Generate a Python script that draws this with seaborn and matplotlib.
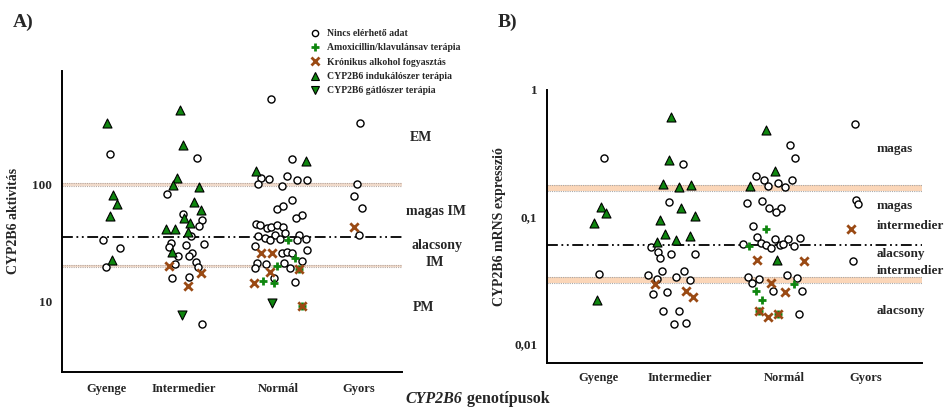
import numpy as np
import pandas as pd
import seaborn as sns
import matplotlib
matplotlib.use("Agg")
import matplotlib.pyplot as plt
from matplotlib.lines import Line2D
from matplotlib.ticker import LogLocator, FixedLocator, FixedFormatter, NullFormatter

# ---------------- data ----------------
categories = ["Gyenge", "Intermedier", "Normál", "Gyors"]
type_names = {
    "n": "Nincs elérhető adat",
    "a": "Amoxicillin/klavulánsav terápia",
    "k": "Krónikus alkohol fogyasztás",
    "i": "CYP2B6 indukálószer terápia",
    "g": "CYP2B6 gátlószer terápia",
}

# Panel A: CYP2B6 activity
A_gyenge_val = [330, 180, 80.5, 68, 53.5, 33.7, 28.8, 22.4, 19.5]
A_gyenge_off = [0, 3, 6, 10, 3, -4, 13, 5, -1]
A_gyenge_typ = "iniiinnin"

A_inter_val = [429, 215, 167, 114, 99, 94, 82, 70, 60, 56, 51.2, 50, 46.7, 44, 41.3, 41.3, 39, 36.2,
               31.7, 31, 30.3, 29.1, 26.4, 24.6, 25.7, 24.2, 21.7, 21, 20.2, 19.8, 17.5, 15.9, 16.2,
               13.6, 7.7, 6.4]
A_inter_off = [-4, -1, 13, -7, -11, 15, -17, 10, 17, -1, 0, 18, 6, 15, -18, -9, 4, 7, -13, 20, 2, -15,
               -12, -6, 8, 5, 12, -9, -15, 14, 17, -12, 5, 4, -2, 18]
A_inter_typ = "iiniiinii" "nininiii" "nnnnn" "i" "nnnnn" "knknnkgn"

A_norm_val = [529, 163, 157, 129, 114, 110, 100, 117, 96, 108, 108, 74, 61.5, 65, 55, 51.5, 46, 44.6,
              42.4, 43, 45, 43, 38.3, 36.6, 35.9, 34.8, 33.2, 34.3, 37.1, 33.7, 34.3, 33.2, 29.5, 25.7,
              26, 26, 26.4, 26, 27.7, 23.3, 22, 21.3, 20.7, 21.1, 19.9, 19.4, 19.1, 18.8, 18.8, 17.7,
              15.7, 14.4, 14.9, 14.3, 14.7, 9.7, 9.1, 9.1]
A_norm_off = [-8, 13, 27, -23, -18, -10, -21, 8, 3, 18, 28, 13, -2, 4, 23, 17, -23, -19, -12, -8, -2, 4,
              6, -4, -21, -14, -9, 1, 20, 18, 27, 9, -24, -18, -7, 3, 8, 13, 28, 16, 23, -22, -13, 5,
              -2, -24, 11, 20, 20, -9, -5, -25, -16, -5, 16, -7, 23, 23]
A_norm_typ = ("nnii" "nnnnnnnnnn" "nnnnnnnnnn" "nnnnnnn" "ankk" "nnnn" "a" "nnnn" "a" "nn"
              "ak" "kn" "kaan" "gak")

A_gyors_val = [334, 101, 79, 63, 43, 36.6]
A_gyors_off = [2, -1, -4, 4, -4, 1]
A_gyors_typ = "nnnnkn"

A_limits = [100, 20]          # EM / IM / PM limits
A_cut = 35.7                  # high / low IM cut
A_labels = ["EM", "magas IM", "alacsony", "IM", "PM"]
A_label_y = [250, 58, 30, 21.4, 8.9]

# Panel B: CYP2B6 mRNA expression
B_gyenge_val = [0.29, 0.119, 0.108, 0.0897, 0.0357, 0.0221]
B_gyenge_off = [6, 3, 8, -4, 1, -1]
B_gyenge_typ = "niiini"

B_inter_val = [0.61, 0.279, 0.262, 0.182, 0.18, 0.171, 0.13, 0.118, 0.101, 0.094, 0.073, 0.0705,
               0.066, 0.064, 0.058, 0.0529, 0.051, 0.051, 0.0477, 0.0375, 0.0375, 0.0348, 0.0339,
               0.0325, 0.0321, 0.0294, 0.0248, 0.0256, 0.0262, 0.0232, 0.0182, 0.0183, 0.0142, 0.0146]
B_inter_off = [-9, -11, 3, -17, 11, -1, -11, 1, 15, -20, -15, 10, -4, -23, -29, -22, -9, 15, -20, -18,
               4, -32, -4, -23, 10, -25, -27, -13, 6, 13, -17, -1, -6, 6]
B_inter_typ = "iiniiin" "iiiiiii" "nnnnnnnnnnn" "k" "nn" "kk" "nnnn"

B_norm_val = [0.483, 0.368, 0.292, 0.21, 0.23, 0.195, 0.195, 0.184, 0.176, 0.174, 0.172, 0.128, 0.133,
              0.118, 0.118, 0.109, 0.085, 0.08, 0.0697, 0.067, 0.0666, 0.068, 0.0617, 0.0627, 0.0606,
              0.0606, 0.0613, 0.0594, 0.0568, 0.0585, 0.0458, 0.0455, 0.0451, 0.0348, 0.0335, 0.0322,
              0.0332, 0.0299, 0.0301, 0.0294, 0.0263, 0.0263, 0.0254, 0.0261, 0.022, 0.0183, 0.0183,
              0.0162, 0.0171, 0.0171, 0.0171]
B_norm_off = [-18, 6, 11, -28, -9, -20, 8, -6, -34, -16, 1, -37, -22, -15, -3, -8, -31, -18, -27, -9,
              4, 16, -41, -23, -18, -4, -1, 10, -13, -35, -27, -7, 20, 3, -36, -25, 13, -32, -13, 10,
              -28, -11, 1, 18, -22, -25, -25, -16, -6, -6, 15]
B_norm_typ = "innninnni" "nnnnnnnn" "a" "nnnnnnnnnnn" "akik" "nnnnn" "kaanknaakkakn"

B_gyors_val = [0.542, 0.137, 0.126, 0.08, 0.0452]
B_gyors_off = [-11, -10, -8, -15, -13]
B_gyors_typ = "nnnkn"

B_bands = [(0.16, 0.18), (0.0299, 0.0334)]
B_cut = 0.06
B_labels = ["magas", "magas", "intermedier", "alacsony", "intermedier", "alacsony"]
B_label_y = [0.342, 0.122, 0.0846, 0.0508, 0.0372, 0.018]


def make_frame(vals, offs, typs):
    rows = []
    for cat, v, o, t in zip(categories, vals, offs, typs):
        for vv, oo, tt in zip(v, o, list(t)):
            rows.append({"cat": cat, "value": vv, "off": oo, "type": tt})
    return pd.DataFrame(rows)


dfA = make_frame([A_gyenge_val, A_inter_val, A_norm_val, A_gyors_val],
                 [A_gyenge_off, A_inter_off, A_norm_off, A_gyors_off],
                 [A_gyenge_typ, A_inter_typ, A_norm_typ, A_gyors_typ])
dfB = make_frame([B_gyenge_val, B_inter_val, B_norm_val, B_gyors_val],
                 [B_gyenge_off, B_inter_off, B_norm_off, B_gyors_off],
                 [B_gyenge_typ, B_inter_typ, B_norm_typ, B_gyors_typ])

# ---------------- style ----------------
sns.set_style("white")
plt.rcParams["font.family"] = ["Liberation Serif", "DejaVu Serif"]
plt.rcParams["font.weight"] = "bold"

GREEN = "#0f860f"
BROWN = "#9a4a14"
styles = {
    "n": dict(marker="o", s=26, facecolor="white", edgecolor="black", linewidth=1.0),
    "i": dict(marker="^", s=42, facecolor=GREEN, edgecolor="black", linewidth=0.8),
    "g": dict(marker="v", s=42, facecolor=GREEN, edgecolor="black", linewidth=0.8),
    "a": dict(marker="+", s=36, color=GREEN, linewidth=2.0),
    "k": dict(marker="x", s=36, color=BROWN, linewidth=2.0),
}

W, H = 950, 408
fig = plt.figure(figsize=(9.5, 4.08), dpi=100)

# layout in pixels
axA = fig.add_axes([62 / W, 1 - 372 / H, (402 - 62) / W, (372 - 70.7) / H])
axB = fig.add_axes([547 / W, 1 - 362.7 / H, (922 - 547) / W, (362.7 - 90) / H])
posA = {"Gyenge": 106.7, "Intermedier": 184, "Normál": 278.7, "Gyors": 358.3}
posB = {"Gyenge": 598.3, "Intermedier": 680, "Normál": 784.3, "Gyors": 866}


def draw_points(ax, df, pos):
    df = df.copy()
    df["x"] = df["cat"].map(pos) + df["off"]
    for t in ["n", "i", "g", "a", "k"]:
        sub = df[df["type"] == t]
        if len(sub):
            sns.scatterplot(data=sub, x="x", y="value", ax=ax, legend=False, zorder=5, **styles[t])


def style_axis(ax, pos, xlim, pad):
    ax.set_yscale("log")
    ax.set_xlim(*xlim)
    for s in ["top", "right"]:
        ax.spines[s].set_visible(False)
    for s in ["left", "bottom"]:
        ax.spines[s].set_linewidth(1.4)
        ax.spines[s].set_color("black")
    ax.set_xticks(list(pos.values()))
    ax.set_xticklabels(list(pos.keys()), fontsize=9, fontweight="bold")
    ax.tick_params(axis="x", length=4, width=1.2, direction="out", pad=pad)
    ax.tick_params(axis="y", which="major", length=5, width=1.2, direction="out", labelsize=9.5, pad=2)
    ax.tick_params(axis="y", which="minor", length=3, width=0.9, direction="out")
    ax.yaxis.set_minor_locator(LogLocator(base=10, subs=np.arange(2, 10)))
    ax.yaxis.set_minor_formatter(NullFormatter())
    ax.set_xlabel("")
    ax.grid(False)


# ---------- Panel A ----------
draw_points(axA, dfA, posA)
style_axis(axA, posA, (62, 402), 4)
axA.set_ylim(2.5, 930)
axA.yaxis.set_major_locator(FixedLocator([10, 100]))
axA.yaxis.set_major_formatter(FixedFormatter(["10", "100"]))
for lim in A_limits:
    axA.axhspan(lim * 0.975, lim * 1.025, color="#f2dccc", lw=0, zorder=1)
    axA.axhline(lim * 0.975, color="#b8a8a0", lw=0.8, ls=(0, (1, 1)), zorder=1.5)
    axA.axhline(lim * 1.025, color="#b8a8a0", lw=0.8, ls=(0, (1, 1)), zorder=1.5)
axA.axhline(A_cut, color="black", lw=1.3, ls=(0, (6, 2, 1, 2, 1, 2)), zorder=2)
axA.set_ylabel("CYP2B6 aktivitás", fontsize=10, fontweight="bold", labelpad=9)
A_label_x = [420.5, 435.5, 437, 434.5, 424]
for lab, yv, xv in zip(A_labels, A_label_y, A_label_x):
    axA.text(xv, yv, lab, ha="center", va="center", fontsize=10, fontweight="bold", clip_on=False)

# ---------- Panel B ----------
draw_points(axB, dfB, posB)
style_axis(axB, posB, (547, 922), 3)
axB.set_ylim(0.0071, 1.0)
axB.yaxis.set_major_locator(FixedLocator([0.01, 0.1, 1]))
axB.yaxis.set_major_formatter(FixedFormatter(["0,01", "0,1", "1"]))
for lo, hi in B_bands:
    axB.axhspan(lo, hi, color="#fbd6b8", lw=0, zorder=1)
    axB.axhline(lo, color="#a8a8a8", lw=0.8, ls=(0, (1, 1)), zorder=1.5)
    axB.axhline(hi, color="#a8a8a8", lw=0.8, ls=(0, (1, 1)), zorder=1.5)
axB.axhline(B_cut, color="black", lw=1.3, ls=(0, (6, 2, 1, 2, 1, 2)), zorder=2)
axB.set_ylabel("CYP2B6 mRNS expresszió", fontsize=10, fontweight="bold", labelpad=6)
for lab, yv in zip(B_labels, B_label_y):
    axB.text(877, yv, lab, ha="left", va="center", fontsize=9.5, fontweight="bold", clip_on=False)

# ---------- panel letters, x label ----------
fig.text(13 / W, 1 - 22 / H, "A)", fontsize=14, fontweight="bold", va="center", ha="left")
fig.text(498 / W, 1 - 22 / H, "B)", fontsize=14, fontweight="bold", va="center", ha="left")
fig.text(462 / W, 1 - 399 / H, "CYP2B6", fontsize=11.5, fontweight="bold", style="italic",
         ha="right", va="center")
fig.text(463 / W, 1 - 399 / H, " genotípusok", fontsize=11.5, fontweight="bold", ha="left", va="center")

# ---------- legend ----------
handles = [
    Line2D([], [], ls="none", marker="o", markersize=4.5, markerfacecolor="white",
           markeredgecolor="black", markeredgewidth=1.0),
    Line2D([], [], ls="none", marker="+", markersize=6, color=GREEN, markeredgewidth=2.0),
    Line2D([], [], ls="none", marker="x", markersize=5.5, color=BROWN, markeredgewidth=2.0),
    Line2D([], [], ls="none", marker="^", markersize=6, markerfacecolor=GREEN,
           markeredgecolor="black", markeredgewidth=0.8),
    Line2D([], [], ls="none", marker="v", markersize=6, markerfacecolor=GREEN,
           markeredgecolor="black", markeredgewidth=0.8),
]
fig.legend(handles, [type_names[k] for k in ["n", "a", "k", "i", "g"]],
           loc="upper left", bbox_to_anchor=(310 / W, 1 - 29 / H), frameon=False,
           prop={"family": "Liberation Serif", "weight": "bold", "size": 7},
           handlelength=1.0, handletextpad=0.75, labelspacing=0.55, borderpad=0, borderaxespad=0)

fig.savefig("out.png", dpi=100)
